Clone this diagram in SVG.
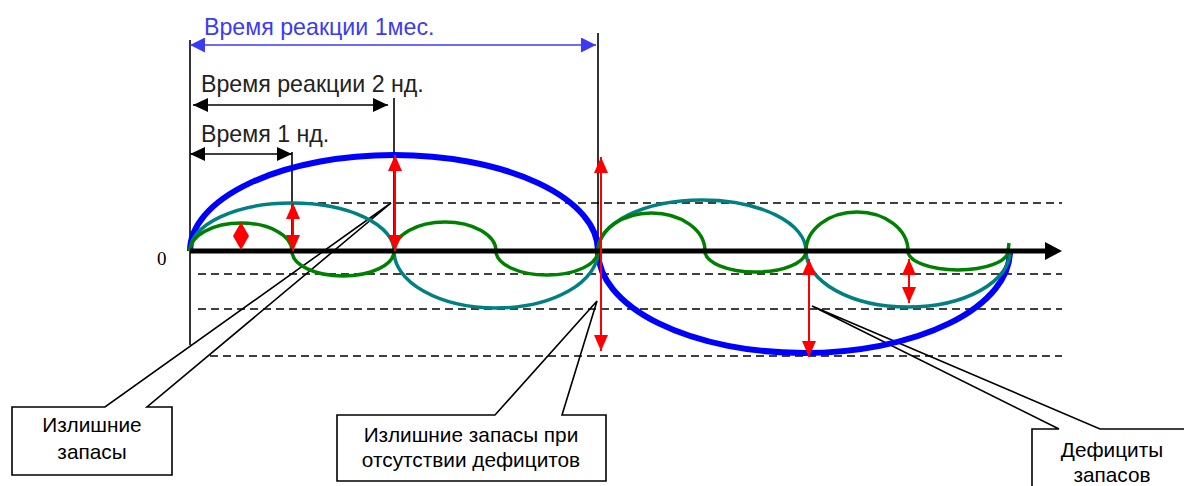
<svg xmlns="http://www.w3.org/2000/svg" width="1184" height="486" viewBox="0 0 1184 486">
<style>
.dash{stroke:#000;stroke-width:1.6;stroke-dasharray:8,5;fill:none}
.vl{stroke:#000;stroke-width:1.6;fill:none}
.lbl{font-family:"Liberation Sans",Arial,sans-serif;font-size:23.2px}
.box{fill:#fff;stroke:#000;stroke-width:1.6}
.btxt{font-family:"Liberation Sans",Arial,sans-serif;font-size:20.8px;fill:#000;text-anchor:middle}
.red{stroke:#f00;stroke-width:2;fill:none;marker-start:url(#rh);marker-end:url(#rh)}
.blk{stroke:#000;stroke-width:1.6;fill:none;marker-start:url(#bh);marker-end:url(#bh)}
</style>
<defs>
<marker id="rh" viewBox="0 0 16 14" refX="16" refY="7" markerWidth="16" markerHeight="14" markerUnits="userSpaceOnUse" orient="auto-start-reverse"><path d="M0,0 L16,7 L0,14 Z" fill="#f00"/></marker>
<marker id="bh" viewBox="0 0 15 14" refX="15" refY="7" markerWidth="15" markerHeight="14" markerUnits="userSpaceOnUse" orient="auto-start-reverse"><path d="M0,0 L15,7 L0,14 Z" fill="#000"/></marker>
<marker id="uh" viewBox="0 0 15 15" refX="15" refY="7.5" markerWidth="15" markerHeight="15" markerUnits="userSpaceOnUse" orient="auto-start-reverse"><path d="M0,0 L15,7.5 L0,15 Z" fill="#3b3bf5"/></marker>
</defs>

<g id="callout-excess">
<path class="box" d="M12,407 H105 L391,203 L147,407 H172 V475 H12 Z"/>
<text class="btxt" x="92" y="432">Излишние</text>
<text class="btxt" x="92" y="459">запасы</text>
</g>
<g id="callout-excess-no-deficit">
<path class="box" d="M337,415 H495 L597,301 L562,415 H606 V481 H337 Z"/>
<text class="btxt" x="471" y="442">Излишние запасы при</text>
<text class="btxt" x="471" y="467">отсутствии дефицитов</text>
</g>
<g id="callout-deficit">
<path class="box" d="M1032,429 H1059 L812,306 L1100,429 H1192 V500 H1032 Z"/>
<text class="btxt" x="1112" y="457">Дефициты</text>
<text class="btxt" x="1112" y="482">запасов</text>
</g>

<g id="guides">
<line class="dash" x1="292" y1="203" x2="1062" y2="203"/>
<line class="dash" x1="198" y1="274" x2="1062" y2="274"/>
<line class="dash" x1="198" y1="309" x2="1062" y2="309"/>
<line class="dash" x1="210" y1="356" x2="1062" y2="356"/>
<line class="vl" x1="190" y1="40" x2="190" y2="345"/>
<line class="vl" x1="292" y1="152" x2="292" y2="251"/>
<line class="vl" x1="394" y1="98" x2="394" y2="251"/>
<line class="vl" x1="598" y1="33" x2="598" y2="251"/>
</g>

<g id="labels">
<text class="lbl" x="204" y="35" fill="#3b3bf5">Время реакции 1мес.</text>
<line x1="190" y1="45" x2="596" y2="45" stroke="#3b3bf5" stroke-width="1.6" marker-start="url(#uh)" marker-end="url(#uh)"/>
<text class="lbl" x="201" y="92" fill="#222">Время реакции 2 нд.</text>
<line class="blk" x1="193" y1="105" x2="388" y2="105"/>
<text class="lbl" x="201" y="142" fill="#222">Время 1 нд.</text>
<line class="blk" x1="190" y1="154" x2="292" y2="154"/>
<text x="157" y="265" font-family="'Liberation Serif','Times New Roman',serif" font-size="19" fill="#000">0</text>
</g>

<g id="curves" fill="none">
<path d="M190,251 A204,96 0 0 1 598,251" stroke="#0000ff" stroke-width="6"/>
<path d="M598,251 A206,102 0 0 0 1010,251" stroke="#0000ff" stroke-width="6"/>
<path d="M190,251 A102,48 0 0 1 394,251 A102,57 0 0 0 598,251 A104,51 0 0 1 806,251 A102,56 0 0 0 1010,251" stroke="#008080" stroke-width="3.5"/>
<path d="M190,251 A51,28 0 0 1 292,251 A51,25 0 0 0 394,251 A51,29 0 0 1 496,251 A51,24 0 0 0 598,251 A53.5,38 0 0 1 705,251 A50.5,21 0 0 0 806,251 A51,39 0 0 1 908,251 A50,19 0 0 0 1008,251 L1009,243" stroke="#008000" stroke-width="3.5"/>
</g>

<g id="axis">
<line x1="190" y1="251" x2="1048" y2="251" stroke="#000" stroke-width="5"/>
<path d="M1045,242 L1062,251 L1045,260 Z" fill="#000"/>
</g>

<g id="connectors">
<path d="M241,222 L249,236 L241,250 L233,236 Z" fill="#f00"/>
<line class="red" x1="293" y1="203" x2="293" y2="251"/>
<line class="red" x1="395" y1="155" x2="395" y2="251"/>
<line class="red" x1="601" y1="157" x2="601" y2="351"/>
<line class="red" x1="809" y1="259" x2="809" y2="357"/>
<line class="red" x1="909" y1="259" x2="909" y2="303"/>
</g>
</svg>
